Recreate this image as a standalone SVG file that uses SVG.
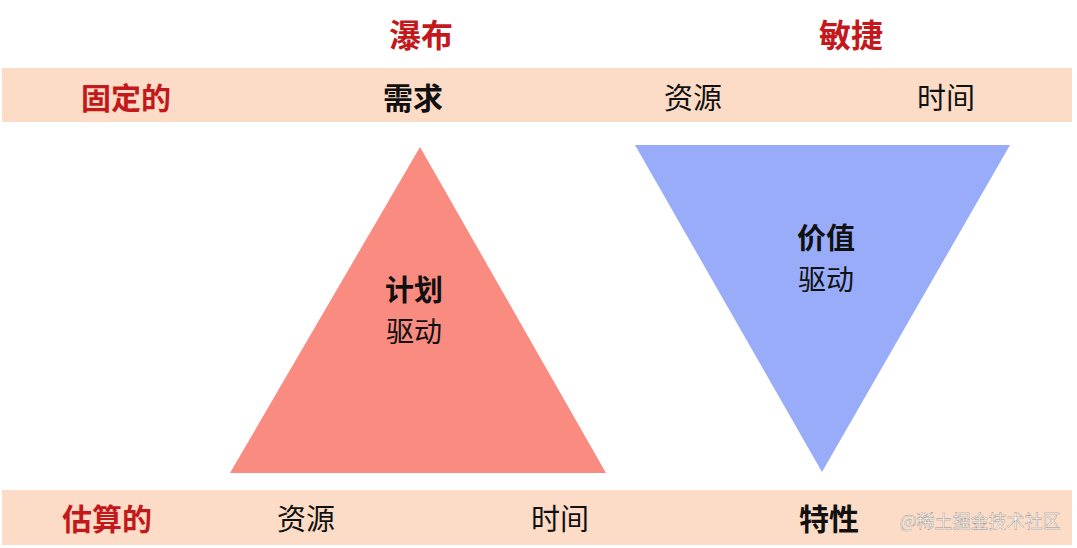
<svg xmlns="http://www.w3.org/2000/svg" width="1077" height="548" viewBox="0 0 1077 548">
<style>
text{font-family:"Noto Sans CJK SC","Noto Sans",sans-serif;text-anchor:middle;dominant-baseline:central}
.t{font-size:32px;font-weight:bold;fill:#c3191c}
.r{font-size:30px;font-weight:bold;fill:#c3191c}
.b{font-size:30px;font-weight:bold;fill:#111}
.n{font-size:29px;fill:#111}
.band{fill:#fcdcc6}
</style>
<rect width="1077" height="548" fill="#fff"/>
<rect class="band" x="2" y="68" width="1070" height="54"/>
<rect class="band" x="2" y="490" width="1070" height="55"/>
<g id="title-waterfall"><text class="t" x="421" y="33">瀑布</text></g>
<g id="title-agile"><text class="t" x="851" y="33">敏捷</text></g>
<g id="top-row">
<text class="r" x="126" y="96">固定的</text>
<text class="b" x="413" y="96">需求</text>
<text class="n" x="693" y="96">资源</text>
<text class="n" x="946" y="96">时间</text>
</g>
<g id="plan-triangle">
<polygon points="420,147 230,473 606,473" fill="#f98b80"/>
<text class="b" x="414" y="288" style="font-size:29px">计划</text>
<text class="n" x="414" y="330" style="font-size:28px">驱动</text>
</g>
<g id="value-triangle">
<polygon points="635,145 1010,145 822,472" fill="#99acfa"/>
<text class="b" x="826" y="236" style="font-size:29px">价值</text>
<text class="n" x="826" y="278" style="font-size:28px">驱动</text>
</g>
<g id="bottom-row">
<text class="r" x="107" y="517">估算的</text>
<text class="n" x="306" y="517">资源</text>
<text class="n" x="560" y="517">时间</text>
<text class="b" x="829" y="517">特性</text>
</g>
<g id="connectors"></g>
<text x="980" y="520" style="font-size:18px;fill:#fff;stroke:#888;stroke-width:0.4;opacity:0.9">@稀土掘金技术社区</text>
</svg>
